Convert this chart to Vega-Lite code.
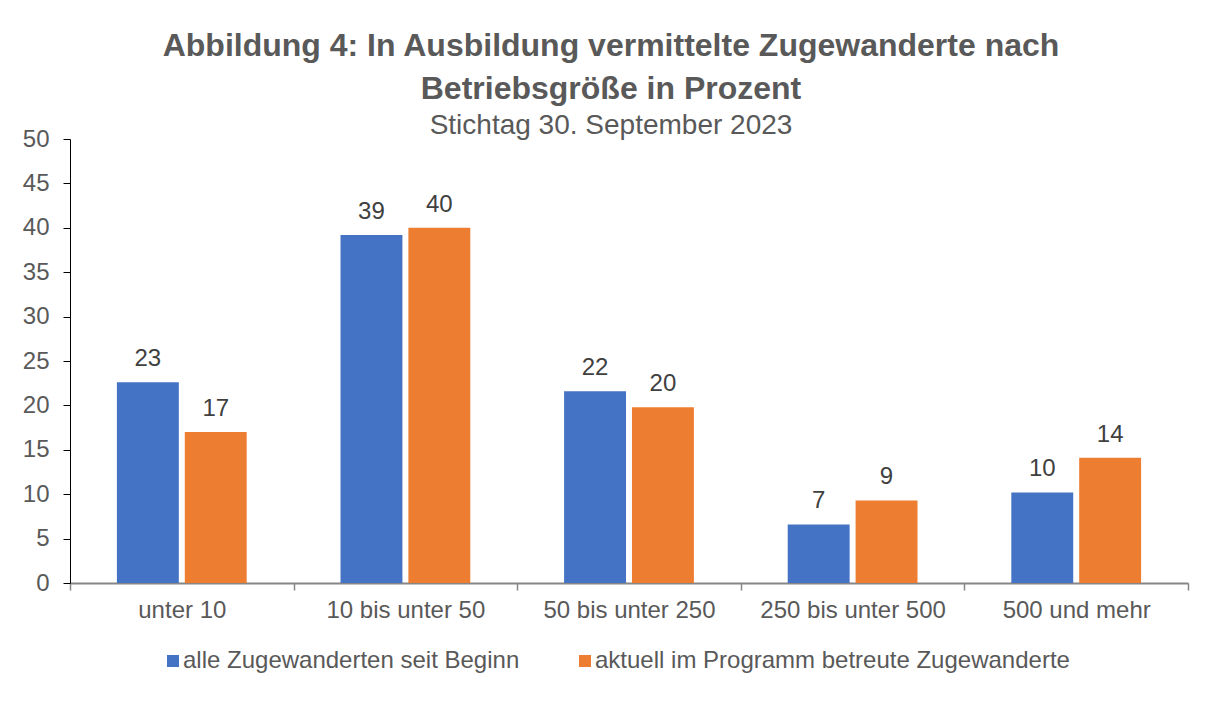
{
  "$schema": "https://vega.github.io/schema/vega-lite/v6.json",
  "width": 1118,
  "height": 444,
  "autosize": {"type": "none"},
  "padding": {"left": 70, "top": 139, "right": 24, "bottom": 124},
  "background": "white",
  "config": {"view": {"stroke": null}, "font": "Liberation Sans"},
  "title": {
    "text": ["Abbildung 4: In Ausbildung vermittelte Zugewanderte nach", "Betriebsgröße in Prozent"],
    "subtitle": "Stichtag 30. September 2023",
    "font": "Liberation Sans",
    "subtitleFont": "Liberation Sans",
    "fontSize": 32,
    "fontWeight": "bold",
    "color": "#595959",
    "subtitleFontSize": 28,
    "subtitleColor": "#595959",
    "lineHeight": 43,
    "subtitleLineHeight": 30,
    "subtitlePadding": 6,
    "anchor": "middle",
    "dx": -18,
    "offset": -14
  },
  "data": {
    "values": [
      {"Betriebsgroesse": "unter 10", "Gruppe": "alle Zugewanderten seit Beginn", "Prozent": 22.6},
      {"Betriebsgroesse": "unter 10", "Gruppe": "aktuell im Programm betreute Zugewanderte", "Prozent": 17.0},
      {"Betriebsgroesse": "10 bis unter 50", "Gruppe": "alle Zugewanderten seit Beginn", "Prozent": 39.2},
      {"Betriebsgroesse": "10 bis unter 50", "Gruppe": "aktuell im Programm betreute Zugewanderte", "Prozent": 40.0},
      {"Betriebsgroesse": "50 bis unter 250", "Gruppe": "alle Zugewanderten seit Beginn", "Prozent": 21.6},
      {"Betriebsgroesse": "50 bis unter 250", "Gruppe": "aktuell im Programm betreute Zugewanderte", "Prozent": 19.8},
      {"Betriebsgroesse": "250 bis unter 500", "Gruppe": "alle Zugewanderten seit Beginn", "Prozent": 6.6},
      {"Betriebsgroesse": "250 bis unter 500", "Gruppe": "aktuell im Programm betreute Zugewanderte", "Prozent": 9.3},
      {"Betriebsgroesse": "500 und mehr", "Gruppe": "alle Zugewanderten seit Beginn", "Prozent": 10.2},
      {"Betriebsgroesse": "500 und mehr", "Gruppe": "aktuell im Programm betreute Zugewanderte", "Prozent": 14.1}
    ]
  },
  "encoding": {
    "x": {
      "field": "Betriebsgroesse",
      "type": "nominal",
      "sort": ["unter 10", "10 bis unter 50", "50 bis unter 250", "250 bis unter 500", "500 und mehr"],
      "scale": {"paddingInner": 0, "paddingOuter": 0},
      "axis": {
        "title": null,
        "labelAngle": 0,
        "labelFontSize": 24,
        "labelColor": "#595959",
        "labelPadding": 8,
        "labelLimit": 0,
        "domainColor": "#868686",
        "domainWidth": 2,
        "tickColor": "#868686",
        "tickSize": 7,
        "tickWidth": 1.5,
        "tickBand": "extent"
      }
    },
    "xOffset": {
      "field": "Gruppe",
      "type": "nominal",
      "sort": ["alle Zugewanderten seit Beginn", "aktuell im Programm betreute Zugewanderte"],
      "scale": {"paddingInner": 0.088, "paddingOuter": 0.691}
    },
    "y": {
      "field": "Prozent",
      "type": "quantitative",
      "scale": {"domain": [0, 50]},
      "axis": {
        "title": null,
        "values": [0, 5, 10, 15, 20, 25, 30, 35, 40, 45, 50],
        "grid": false,
        "labelFontSize": 24,
        "labelColor": "#595959",
        "labelPadding": 14,
        "domainColor": "#000000",
        "tickColor": "#000000",
        "tickSize": 7
      }
    }
  },
  "layer": [
    {
      "mark": {"type": "bar"},
      "encoding": {
        "color": {
          "field": "Gruppe",
          "type": "nominal",
          "sort": ["alle Zugewanderten seit Beginn", "aktuell im Programm betreute Zugewanderte"],
          "scale": {"domain": ["alle Zugewanderten seit Beginn", "aktuell im Programm betreute Zugewanderte"], "range": ["#4472C4", "#ED7D31"]},
          "legend": {
            "title": null,
            "orient": "none",
            "legendX": 91,
            "legendY": 510,
            "direction": "horizontal",
            "symbolType": "square",
            "symbolSize": 144,
            "symbolStrokeWidth": 0,
            "labelFontSize": 24,
            "labelColor": "#595959",
            "labelOffset": -2,
            "labelLimit": 0,
            "columnPadding": 53
          }
        }
      }
    },
    {
      "mark": {"type": "text", "dy": -16, "baseline": "alphabetic", "fontSize": 24, "color": "#404040"},
      "encoding": {
        "text": {"field": "Prozent", "type": "quantitative", "format": ".0f"}
      }
    }
  ]
}
